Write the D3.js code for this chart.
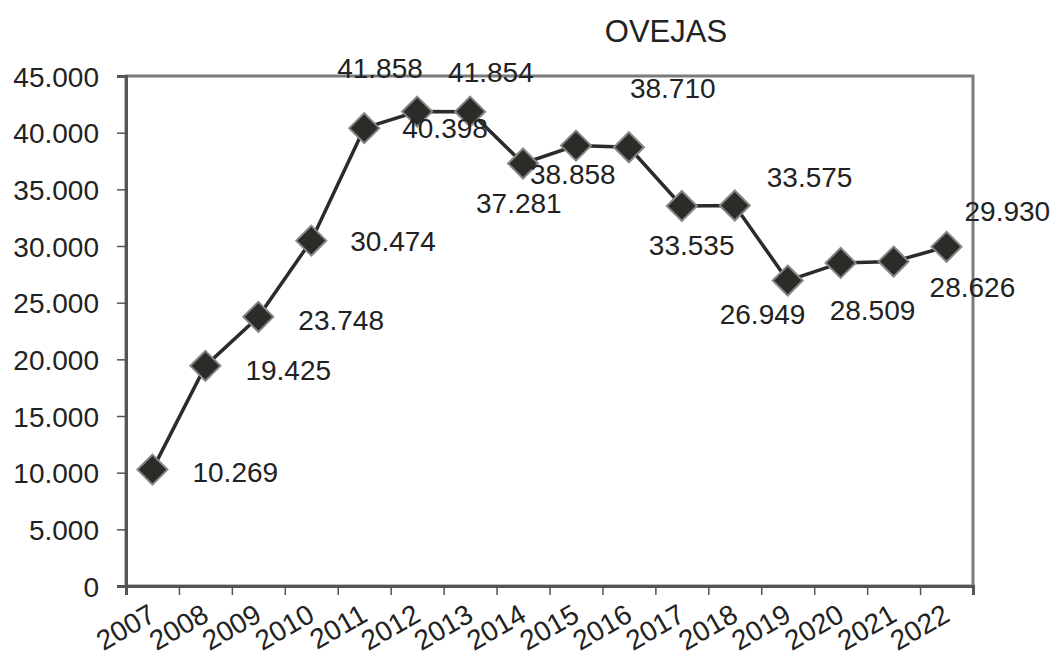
<!DOCTYPE html>
<html>
<head>
<meta charset="utf-8">
<script src="https://cdn.jsdelivr.net/npm/d3@7"></script>
<style>
  html, body { margin: 0; padding: 0; background: #fff; }
  svg { display: block; font-family: "Liberation Sans", Arial, sans-serif; }
</style>
</head>
<body>
<svg id="chart" width="1053" height="657"></svg>
<script>
// ---- data ----
const years = ["2007","2008","2009","2010","2011","2012","2013","2014","2015","2016","2017","2018","2019","2020","2021","2022"];
const ovejas = [10269, 19425, 23748, 30474, 40398, 41858, 41854, 37281, 38858, 38710, 33535, 33575, 26949, 28509, 28626, 29930];
const yTicks = [0, 5000, 10000, 15000, 20000, 25000, 30000, 35000, 40000, 45000];
const title = "OVEJAS";

// ---- label placement (pixel offsets of label start / baseline from each point) ----
const labelOffsets = [
  [40, 12], [40, 14], [40, 13], [39, 10], [38, 10], [-80, -34], [-22, -30], [-47, 50],
  [-46, 38], [1, -49], [-33, 49], [32, -18], [-68, 43], [-11, 57], [36, 35], [18, -26]
];

// ---- layout ----
const margin = { left: 126, top: 76, right: 973, bottom: 586 };
const svg = d3.select("#chart");
const loc = d3.formatLocale({ decimal: ",", thousands: ".", grouping: [3], currency: ["", ""] });
const fmt = loc.format(",d");

const x = d3.scaleBand().domain(years).range([margin.left, margin.right]).padding(0);
const xEdge = d3.scaleLinear().domain([0, years.length]).range([margin.left, margin.right]);
const y = d3.scaleLinear().domain([0, 45000]).range([margin.bottom, margin.top]);

// plot frame
svg.append("rect")
  .attr("x", margin.left).attr("y", margin.top)
  .attr("width", margin.right - margin.left).attr("height", margin.bottom - margin.top)
  .attr("fill", "none").attr("stroke", "#7a7a7a").attr("stroke-width", 3);

// y axis
const yAxis = svg.append("g")
  .attr("transform", `translate(${margin.left},0)`)
  .call(d3.axisLeft(y).tickValues(yTicks).tickFormat(fmt).tickSize(9).tickPadding(18));
yAxis.select(".domain").attr("stroke", "#555").attr("stroke-width", 3);
yAxis.selectAll(".tick line").attr("stroke", "#555").attr("stroke-width", 1.5);
yAxis.selectAll(".tick text").attr("fill", "#222").style("font-size", "28px")
  .attr("dy", "0.36em");

// x axis ticks at category edges
const xAxis = svg.append("g")
  .attr("transform", `translate(0,${margin.bottom})`)
  .call(d3.axisBottom(xEdge).tickValues(d3.range(years.length + 1)).tickFormat("").tickSize(9));
xAxis.select(".domain").attr("stroke", "#555").attr("stroke-width", 3);
xAxis.selectAll(".tick line").attr("stroke", "#555").attr("stroke-width", 1.5);

// x labels rotated
svg.append("g").selectAll("text").data(years).join("text")
  .attr("transform", d => `translate(${x(d) + x.bandwidth() / 2 + 5},620) rotate(-30)`)
  .attr("text-anchor", "end")
  .attr("fill", "#222")
  .style("font-size", "28px")
  .text(d => d);

// title
svg.append("text")
  .attr("x", 666).attr("y", 42)
  .attr("text-anchor", "middle")
  .attr("fill", "#222")
  .style("font-size", "31px")
  .text(title);

// line
const pts = years.map((yr, i) => ({ yr, v: ovejas[i], i }));
const line = d3.line().x(d => x(d.yr) + x.bandwidth() / 2).y(d => y(d.v));
svg.append("path").datum(pts)
  .attr("d", line).attr("fill", "none")
  .attr("stroke", "#2b2b2b").attr("stroke-width", 3.5);

// diamond markers
svg.append("g").selectAll("path").data(pts).join("path")
  .attr("transform", d => `translate(${x(d.yr) + x.bandwidth() / 2},${y(d.v)})`)
  .attr("d", "M0,-15L15,0L0,15L-15,0Z")
  .attr("fill", "#2d2b28")
  .attr("stroke", "#858585").attr("stroke-width", 2);

// value labels
svg.append("g").selectAll("text").data(pts).join("text")
  .attr("x", d => x(d.yr) + x.bandwidth() / 2 + labelOffsets[d.i][0])
  .attr("y", d => y(d.v) + labelOffsets[d.i][1])
  .attr("fill", "#222")
  .style("font-size", "28px")
  .text(d => fmt(d.v));
</script>
</body>
</html>
